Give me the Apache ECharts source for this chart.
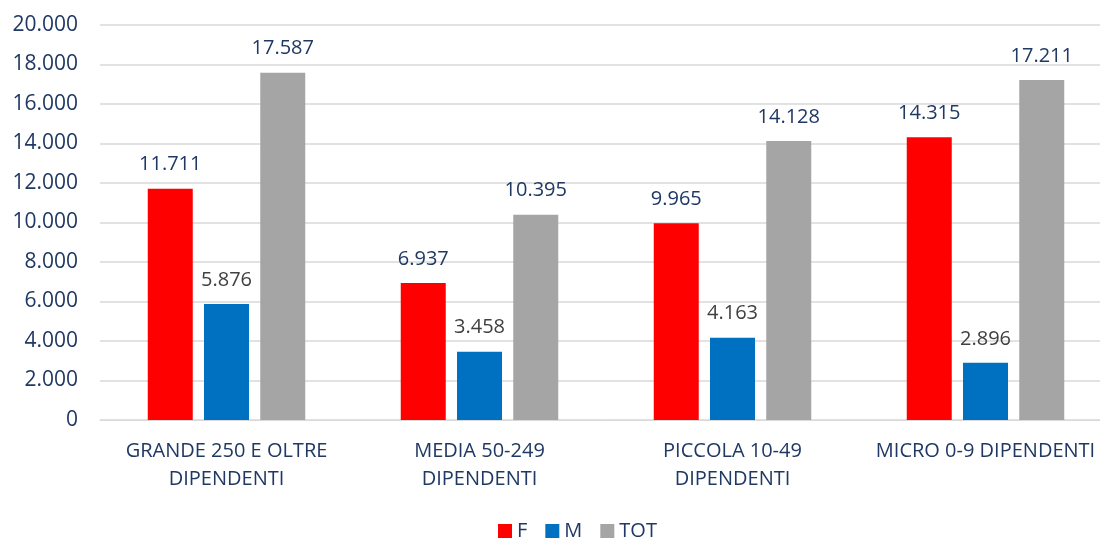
<!DOCTYPE html>
<html>
<head>
<meta charset="utf-8">
<script src="https://cdn.jsdelivr.net/npm/echarts@6/dist/echarts.min.js"></script>
<style>
  html, body { margin: 0; padding: 0; background: #fff; }
  #chart { width: 1100px; height: 540px; }
</style>
</head>
<body>
<div id="chart"></div>
<script>
// dati
const categories = ['GRANDE 250 E OLTRE\nDIPENDENTI', 'MEDIA 50-249\nDIPENDENTI', 'PICCOLA 10-49\nDIPENDENTI', 'MICRO 0-9 DIPENDENTI']
const valF = [11711, 6937, 9965, 14315]
const valM = [5876, 3458, 4163, 2896]
const valTot = [17587, 10395, 14128, 17211]

const navy = '#1F3864'
const font = '"Open Sans", "Noto Sans", sans-serif'

// 17587 -> 17.587
function fmt (v) {
  return String(Math.round(v)).replace(/\B(?=(\d{3})+(?!\d))/g, '.')
}

function barSeries (name, data, color, labelColor) {
  return {
    name: name,
    type: 'bar',
    data: data,
    barWidth: 45,
    barGap: '25%',
    itemStyle: { color: color },
    label: {
      show: true,
      position: 'top',
      distance: 14,
      color: labelColor,
      fontFamily: font,
      fontSize: 20,
      formatter: p => fmt(p.value)
    }
  }
}

const chart = echarts.init(document.getElementById('chart'))
chart.setOption({
  animation: false,
  textStyle: { fontFamily: font },
  // l'area del grafico esce un po' a destra, come nell'originale
  grid: { left: 100, width: 1012, top: 25, bottom: 120, outerBoundsMode: 'none' },
  legend: {
    bottom: -6,
    left: 493,
    itemWidth: 14,
    itemHeight: 14,
    itemGap: 18,
    icon: 'rect',
    textStyle: { color: navy, fontSize: 20, fontFamily: font },
    data: ['F', 'M', 'TOT']
  },
  xAxis: {
    type: 'category',
    data: categories,
    axisLine: { lineStyle: { color: '#D9D9D9', width: 1 } },
    axisTick: { show: false },
    axisLabel: {
      color: navy,
      fontSize: 20,
      fontFamily: font,
      lineHeight: 28,
      margin: 17,
      interval: 0
    }
  },
  yAxis: {
    type: 'value',
    min: 0,
    max: 20000,
    interval: 2000,
    axisLine: { show: false },
    axisTick: { show: false },
    splitLine: { lineStyle: { color: '#D9D9D9', width: 1.5 } },
    axisLabel: {
      color: navy,
      fontSize: 21,
      fontFamily: font,
      margin: 22,
      formatter: v => fmt(v)
    }
  },
  series: [
    barSeries('F', valF, '#FF0000', navy),
    barSeries('M', valM, '#0070C0', '#404040'),
    barSeries('TOT', valTot, '#A5A5A5', navy)
  ]
})
</script>
</body>
</html>
